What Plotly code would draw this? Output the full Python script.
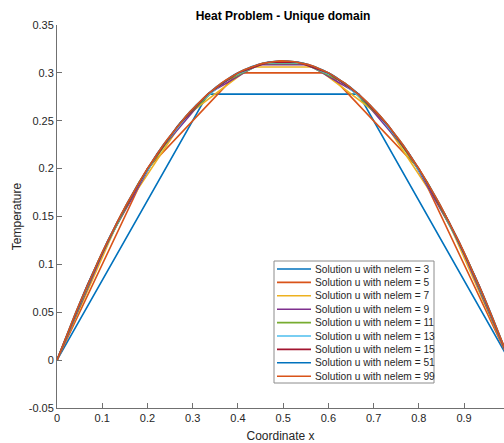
import numpy as np
import plotly.graph_objects as go

# number of elements for each solution
nelems = [3, 5, 7, 9, 11, 13, 15, 51, 99]

# nodal temperatures (one list per mesh)
u3 = [0, 0.2778, 0.2778, 0]
u5 = [0, 0.2, 0.3, 0.3, 0.2, 0]
u7 = [0, 0.1531, 0.2551, 0.3061, 0.3061, 0.2551, 0.1531, 0]
u9 = [0, 0.1235, 0.2160, 0.2778, 0.3086, 0.3086, 0.2778, 0.2160, 0.1235, 0]
u11 = [0, 0.1033, 0.1860, 0.2479, 0.2893, 0.3099, 0.3099, 0.2893, 0.2479, 0.1860, 0.1033, 0]
u13 = [0, 0.0888, 0.1627, 0.2219, 0.2663, 0.2959, 0.3107, 0.3107, 0.2959, 0.2663, 0.2219,
       0.1627, 0.0888, 0]
u15 = [0, 0.0778, 0.1444, 0.2, 0.2444, 0.2778, 0.3, 0.3111, 0.3111, 0.3, 0.2778, 0.2444,
       0.2, 0.1444, 0.0778, 0]
u51 = [0, 0.0240, 0.0471, 0.0692, 0.0903, 0.1105, 0.1298, 0.1480, 0.1653, 0.1817, 0.1970,
       0.2115, 0.2249, 0.2374, 0.2489, 0.2595, 0.2691, 0.2778, 0.2855, 0.2922, 0.2980,
       0.3028, 0.3066, 0.3095, 0.3114, 0.3124, 0.3124, 0.3114, 0.3095, 0.3066, 0.3028,
       0.2980, 0.2922, 0.2855, 0.2778, 0.2691, 0.2595, 0.2489, 0.2374, 0.2249, 0.2115,
       0.1970, 0.1817, 0.1653, 0.1480, 0.1298, 0.1105, 0.0903, 0.0692, 0.0471, 0.0240, 0]
u99 = [0, 0.0125, 0.0247, 0.0367, 0.0485, 0.0599, 0.0712, 0.0821, 0.0928, 0.1033, 0.1135,
       0.1235, 0.1331, 0.1426, 0.1518, 0.1607, 0.1694, 0.1778, 0.1860, 0.1939, 0.2015,
       0.2089, 0.2160, 0.2229, 0.2296, 0.2359, 0.2421, 0.2479, 0.2535, 0.2589, 0.2640,
       0.2689, 0.2734, 0.2778, 0.2819, 0.2857, 0.2893, 0.2926, 0.2956, 0.2984, 0.3010,
       0.3033, 0.3053, 0.3071, 0.3086, 0.3099, 0.3109, 0.3117, 0.3122, 0.3125,
       0.3125, 0.3122, 0.3117, 0.3109, 0.3099, 0.3086, 0.3071, 0.3053, 0.3033, 0.3010,
       0.2984, 0.2956, 0.2926, 0.2893, 0.2857, 0.2819, 0.2778, 0.2734, 0.2689, 0.2640,
       0.2589, 0.2535, 0.2479, 0.2421, 0.2359, 0.2296, 0.2229, 0.2160, 0.2089, 0.2015,
       0.1939, 0.1860, 0.1778, 0.1694, 0.1607, 0.1518, 0.1426, 0.1331, 0.1235, 0.1135,
       0.1033, 0.0928, 0.0821, 0.0712, 0.0599, 0.0485, 0.0367, 0.0247, 0.0125, 0]
solutions = [u3, u5, u7, u9, u11, u13, u15, u51, u99]

# couleurs par défaut de matlab
colors = ["#0072BD", "#D95319", "#EDB120", "#7E2F8E", "#77AC30", "#4DBEEE", "#A2142F",
          "#0072BD", "#D95319"]

fig = go.Figure()
for n, u, c in zip(nelems, solutions, colors):
    x = np.linspace(0, 1, n + 1)  # uniform mesh nodes
    fig.add_trace(go.Scatter(x=x, y=u, mode="lines", line=dict(color=c, width=1.6),
                             name=f"Solution u with nelem = {n}", showlegend=False))

W, H = 504, 443
L, T, B = 57, 25, 408
PW, PH = W - L, B - T
px = lambda v: (v - L) / PW
py = lambda v: (B - v) / PH

# legende dessinée à la main (plus compacte que celle de plotly)
fig.add_shape(type="rect", xref="paper", yref="paper", x0=px(274), x1=px(434),
              y0=py(383), y1=py(261), line=dict(color="#8c8c8c", width=1), fillcolor="white",
              layer="above")
for i, (n, c) in enumerate(zip(nelems, colors)):
    yy = 269 + i * 13.4
    fig.add_shape(type="line", xref="paper", yref="paper", x0=px(277), x1=px(311),
                  y0=py(yy), y1=py(yy), line=dict(color=c, width=1.6), layer="above")
    fig.add_annotation(xref="paper", yref="paper", x=px(313), y=py(yy), xanchor="left",
                       yanchor="middle", showarrow=False, text=f"Solution u with nelem = {n}",
                       font=dict(size=10.2, color="#262626"))

axcol = "#707070"
fig.update_layout(
    width=W, height=H,
    margin=dict(l=L, r=0, t=T, b=H - B, autoexpand=False),
    paper_bgcolor="white", plot_bgcolor="white",
    font=dict(family="Liberation Sans, Arial, sans-serif", size=11, color="#262626"),
    title=dict(text="<b>Heat Problem - Unique domain</b>", x=283 / W, xanchor="center",
               y=(H - 16) / H, yanchor="middle", font=dict(size=12, color="black")),
    xaxis=dict(range=[0, 0.9883], tickvals=[0, 0.1, 0.2, 0.3, 0.4, 0.5, 0.6, 0.7, 0.8, 0.9],
               ticktext=["0", "0.1", "0.2", "0.3", "0.4", "0.5", "0.6", "0.7", "0.8", "0.9"],
               showgrid=False, zeroline=False, showline=True, linecolor=axcol, linewidth=1,
               ticks="inside", ticklen=5, tickcolor=axcol, automargin=False,
               title=dict(text="Coordinate x", standoff=10, font=dict(size=12))),
    yaxis=dict(range=[-0.05, 0.35], tickvals=[-0.05, 0, 0.05, 0.1, 0.15, 0.2, 0.25, 0.3, 0.35],
               ticktext=["-0.05", "0", "0.05", "0.1", "0.15", "0.2", "0.25", "0.3", "0.35"],
               showgrid=False, zeroline=False, showline=True, linecolor=axcol, linewidth=1,
               ticks="inside", ticklen=5, tickcolor=axcol, automargin=False,
               title=dict(text="Temperature", standoff=4, font=dict(size=12))),
)

# pas de marge autour de la figure dans la page, pas de barre d'outils
fig.write_html("out.html", config={"displayModeBar": False},
               post_script="document.body.style.margin='0';document.body.style.overflow='hidden';")
